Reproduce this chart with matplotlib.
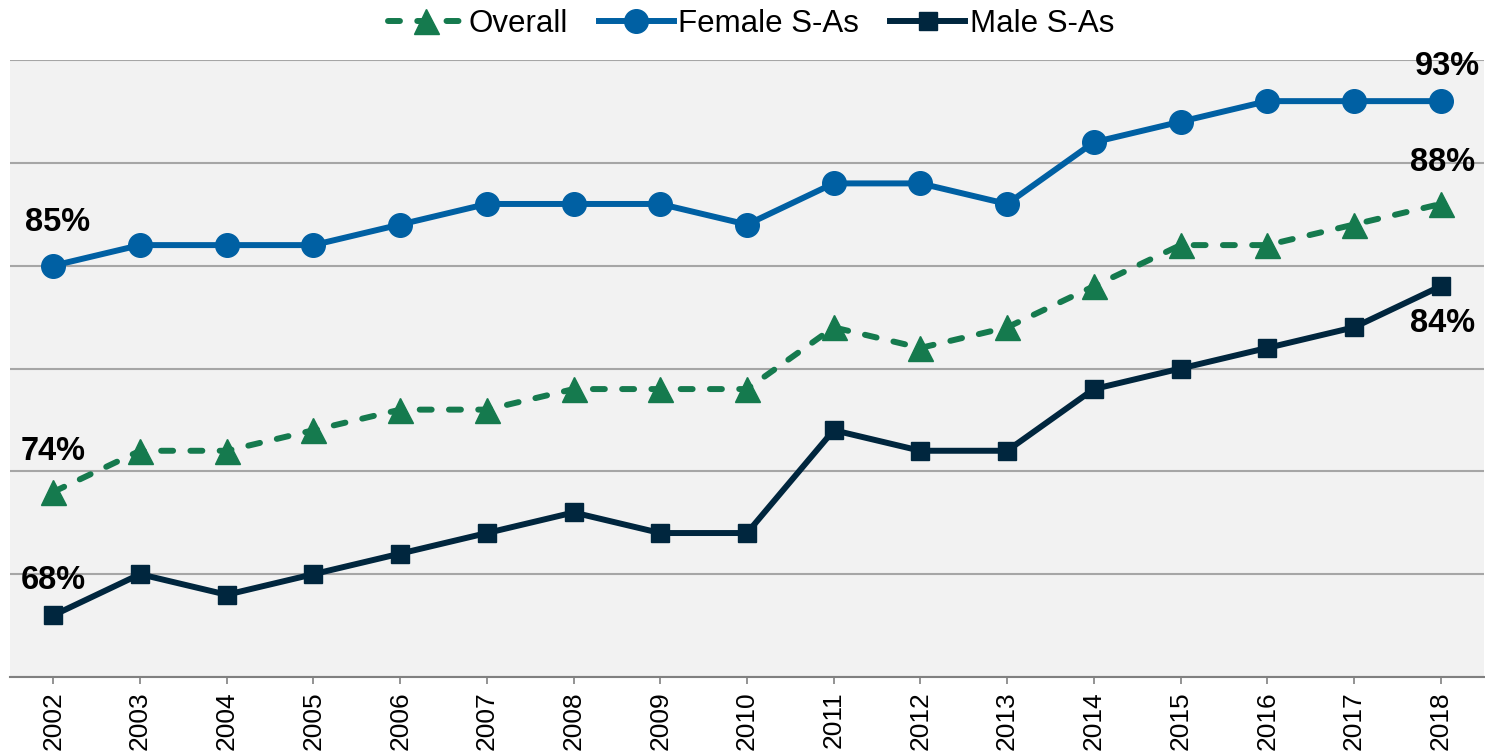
import matplotlib
matplotlib.use("Agg")
import matplotlib.pyplot as plt

plt.rcParams['font.family'] = ['Liberation Sans', 'DejaVu Sans']

years = ['2002', '2003', '2004', '2005', '2006', '2007', '2008', '2009', '2010',
         '2011', '2012', '2013', '2014', '2015', '2016', '2017', '2018']
overall = [74, 76, 76, 77, 78, 78, 79, 79, 79, 82, 81, 82, 84, 86, 86, 87, 88]
female = [85, 86, 86, 86, 87, 88, 88, 88, 87, 89, 89, 88, 91, 92, 93, 93, 93]
male = [68, 70, 69, 70, 71, 72, 73, 72, 72, 77, 76, 76, 79, 80, 81, 82, 84]

c_over = '#157a4e'
c_fem = '#0060a3'
c_male = '#00263e'

fig = plt.figure(figsize=(14.85, 7.54), dpi=100)
ax = fig.add_axes([10/1485, 1-677/754, 1474/1485, 617/754])
ax.set_facecolor('#f2f2f2')

x = list(range(len(years)))
lw = 4.3
ax.plot(x, overall, color=c_over, lw=lw, ls=(0, (2.0, 2.9)), dash_capstyle='round',
        marker='^', ms=18, label='Overall', zorder=3)
ax.plot(x, female, color=c_fem, lw=lw, marker='o', ms=17, label='Female S-As', zorder=3)
ax.plot(x, male, color=c_male, lw=lw, marker='s', ms=13.5, label='Male S-As', zorder=3)

ax.set_xlim(-0.5, len(years) - 0.5)
ax.set_ylim(65, 95)
ax.set_yticks([65, 70, 75, 80, 85, 90, 95])
ax.yaxis.grid(True, color='#a6a6a6', lw=1.5)
ax.set_axisbelow(True)
ax.tick_params(axis='y', left=False, labelleft=False)
ax.set_xticks(x)
ax.set_xticklabels(years, rotation=90, fontsize=19)
ax.tick_params(axis='x', length=5, width=1.2, color='#808080', pad=5)
for s in ['top', 'left', 'right']:
    ax.spines[s].set_visible(False)
ax.spines['bottom'].set_color('#808080')
ax.spines['bottom'].set_linewidth(1.5)

fs = 23.5
def lab(series, i, dx, dy):
    ax.annotate(f'{series[i]}%', (x[i], series[i]), xytext=(dx, dy), textcoords='offset pixels',
                ha='center', va='center', fontsize=fs, fontweight='bold')

lab(female, 0, 4, 43)
lab(overall, 0, 0, 40)
lab(male, 0, 0, 35)
lab(female, -1, 7, 35)
lab(overall, -1, 2, 41)
lab(male, -1, 2, -37)

leg = fig.legend(loc='upper center', bbox_to_anchor=(0.506, 1.025), ncol=3, frameon=False,
                 fontsize=22.5, handlelength=2.4, handletextpad=0.15, columnspacing=1.0,
                 markerscale=1.0)

fig.savefig('out.png', dpi=100)
